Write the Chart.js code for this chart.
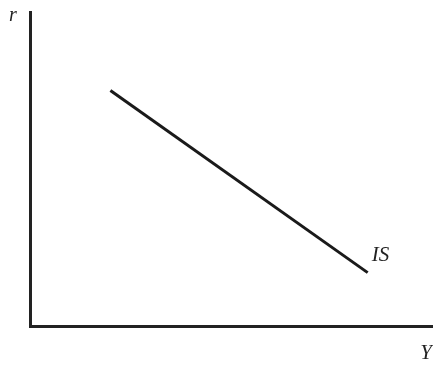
<!DOCTYPE html>
<html>
<head>
<meta charset="utf-8">
<script src="https://cdn.jsdelivr.net/npm/chart.js@4"></script>
<style>
html,body{margin:0;padding:0;background:#fff;}
#wrap{width:433px;height:368px;}
</style>
</head>
<body>
<div id="wrap"><canvas id="c" width="433" height="368"></canvas></div>
<script>
// IS curve endpoints (output Y, interest rate r) on a 0-100 scale
const isY = [20, 84];
const isR = [75, 17];
const curveLabel = "IS";
const xAxisLabel = "Y";
const yAxisLabel = "r";
const axisMax = 100;

const points = isY.map((v, i) => ({x: v, y: isR[i]}));

const labelPlugin = {
  id: 'labels',
  afterDraw(chart) {
    const ctx = chart.ctx;
    const xs = chart.scales.x, ys = chart.scales.y;
    ctx.save();
    ctx.fillStyle = '#222';
    ctx.font = 'italic 20px "Liberation Serif", "DejaVu Serif", serif';
    ctx.textBaseline = 'alphabetic';
    ctx.textAlign = 'left';
    ctx.fillText(yAxisLabel, xs.left - 21, ys.top + 9);
    ctx.font = 'italic 21px "Liberation Serif", "DejaVu Serif", serif';
    ctx.textAlign = 'right';
    ctx.fillText(xAxisLabel, xs.right, ys.bottom + 33);
    const last = points[points.length - 1];
    ctx.textAlign = 'left';
    ctx.fillText(curveLabel, xs.getPixelForValue(last.x) + 4, ys.getPixelForValue(last.y) - 12);
    ctx.restore();
  }
};

new Chart(document.getElementById('c'), {
  type: 'scatter',
  data: {
    datasets: [{
      data: points,
      showLine: true,
      borderColor: '#1a1a1a',
      borderWidth: 3,
      pointRadius: 0,
      fill: false
    }]
  },
  options: {
    responsive: false,
    devicePixelRatio: 1,
    animation: false,
    layout: {padding: {left: 22, right: 1, top: 12, bottom: 34}},
    plugins: {legend: {display: false}, tooltip: {enabled: false}},
    scales: {
      x: {
        type: 'linear', min: 0, max: axisMax,
        grid: {display: false},
        ticks: {display: false},
        border: {display: true, color: '#222', width: 3}
      },
      y: {
        type: 'linear', min: 0, max: axisMax,
        grid: {display: false},
        ticks: {display: false},
        border: {display: true, color: '#222', width: 3}
      }
    }
  },
  plugins: [labelPlugin]
});
</script>
</body>
</html>
